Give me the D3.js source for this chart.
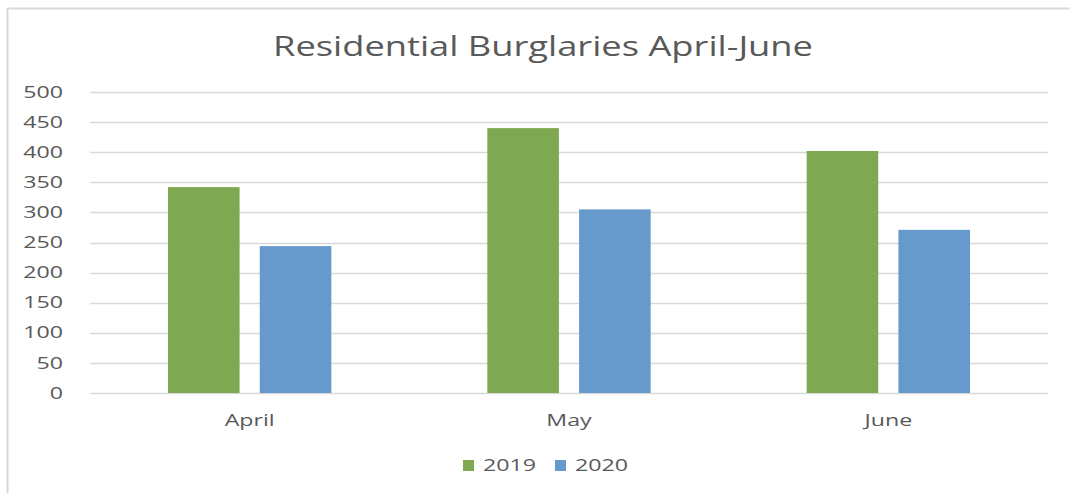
<!DOCTYPE html>
<html lang="en">
	<head>
		<meta charset="utf-8">
		<title>Residential Burglaries April-June</title>
		<script src="https://cdn.jsdelivr.net/npm/d3@7"></script>
		<style>
			body, html {
				margin: 0;
				padding: 0;
				background: #fff;
			}
			.title {
				font-family: 'Open Sans', sans-serif;
				font-size: 28px;
				fill: #595959;
				text-anchor: middle;
			}
			.axis text, .legend text {
				font-family: 'Open Sans', sans-serif;
				font-size: 16px;
				fill: #595959;
			}
		</style>
	</head>
	<body>
		<script>
			var w = 1070;
			var h = 493;

			// data
			var months = ["April", "May", "June"];
			var years = ["2019", "2020"];
			var values2019 = [342, 440, 402];
			var values2020 = [244, 305, 271];
			var yTicks = [0, 50, 100, 150, 200, 250, 300, 350, 400, 450, 500];

			var colors = { "2019": "#7ea852", "2020": "#6699cc" };

			// the reference is stretched sideways, so text gets widened too
			var stretch = 1.45;

			var rows = months.map(function (m, i) {
				return { month: m, values: [
					{ year: "2019", value: values2019[i] },
					{ year: "2020", value: values2020[i] }
				]};
			});

			var plotLeft = 90, plotRight = 1048, plotTop = 92, plotBottom = 393;

			var svg = d3.select("body")
				.append("svg")
				.attr("width", w)
				.attr("height", h);

			// chart border (top and left edges visible)
			svg.append("line")
				.attr("x1", 7).attr("x2", w).attr("y1", 8.5).attr("y2", 8.5)
				.attr("stroke", "#d9d9d9").attr("stroke-width", 2);
			svg.append("line")
				.attr("x1", 7.5).attr("x2", 7.5).attr("y1", 8).attr("y2", h)
				.attr("stroke", "#d9d9d9").attr("stroke-width", 2);

			svg.append("text")
				.attr("class", "title")
				.attr("x", 543)
				.attr("y", 56)
				.attr("textLength", 540)
				.attr("lengthAdjust", "spacingAndGlyphs")
				.text("Residential Burglaries April-June");

			var y = d3.scaleLinear().domain([0, 500]).range([plotBottom, plotTop]);
			var x0 = d3.scaleBand().domain(months).range([plotLeft, plotRight]);
			var groupPad = 78;
			var x1 = d3.scaleBand().domain(years)
				.range([groupPad, x0.bandwidth() - groupPad])
				.paddingInner(0.22);

			// gridlines
			svg.append("g")
				.selectAll("line")
				.data(yTicks)
				.enter()
				.append("line")
				.attr("x1", plotLeft)
				.attr("x2", plotRight)
				.attr("y1", function (d) { return Math.round(y(d)) + 0.5; })
				.attr("y2", function (d) { return Math.round(y(d)) + 0.5; })
				.attr("stroke", "#d9d9d9")
				.attr("stroke-width", 1.5);

			// y axis labels
			var yAxis = svg.append("g")
				.attr("class", "axis")
				.attr("transform", "translate(63,0)")
				.call(d3.axisLeft(y).tickValues(yTicks).tickSize(0).tickPadding(0));
			yAxis.select(".domain").remove();
			yAxis.selectAll("text").attr("transform", "scale(" + stretch + ",1)");

			// bars
			var groups = svg.append("g")
				.selectAll("g")
				.data(rows)
				.enter()
				.append("g")
				.attr("transform", function (d) { return "translate(" + x0(d.month) + ",0)"; });

			groups.selectAll("rect")
				.data(function (d) { return d.values; })
				.enter()
				.append("rect")
				.attr("x", function (d) { return x1(d.year); })
				.attr("y", function (d) { return y(d.value); })
				.attr("width", x1.bandwidth())
				.attr("height", function (d) { return plotBottom - y(d.value); })
				.attr("fill", function (d) { return colors[d.year]; });

			// x axis labels
			var xAxis = svg.append("g")
				.attr("class", "axis")
				.attr("transform", "translate(0," + (plotBottom + 27) + ")")
				.call(d3.axisBottom(x0).tickSize(0).tickPadding(0));
			xAxis.select(".domain").remove();
			xAxis.selectAll("text")
				.attr("dy", "0.35em")
				.attr("transform", "scale(" + stretch + ",1)");

			// legend
			var legend = svg.append("g")
				.attr("class", "legend")
				.attr("transform", "translate(463,465)");
			var item = legend.selectAll("g")
				.data(years)
				.enter()
				.append("g")
				.attr("transform", function (d, i) { return "translate(" + (i * 92) + ",0)"; });
			item.append("rect")
				.attr("x", 0).attr("y", -5)
				.attr("width", 11).attr("height", 11)
				.attr("fill", function (d) { return colors[d]; });
			item.append("text")
				.attr("x", 20 / stretch)
				.attr("y", 0)
				.attr("dy", "0.35em")
				.attr("transform", "scale(" + stretch + ",1)")
				.text(function (d) { return d; });
		</script>
	</body>
</html>
